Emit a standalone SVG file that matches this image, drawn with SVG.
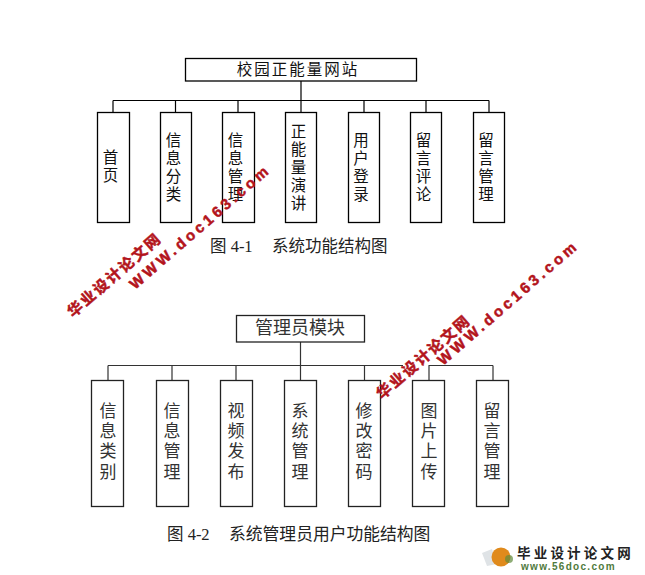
<svg xmlns="http://www.w3.org/2000/svg" width="645" height="575" viewBox="0 0 645 575">
<style>
text{font-family:"Liberation Serif","Noto Sans CJK SC",serif;fill:#111}
.b{fill:#fff;stroke:#000;stroke-width:1.3}
.b2{fill:#fff;stroke:#222;stroke-width:1.3}
.c{fill:none;stroke:#000;stroke-width:1.2}
.c2{fill:none;stroke:#333;stroke-width:1.2}
.t{font-size:15.500px;text-anchor:middle}
.t2{font-size:17px;text-anchor:middle;fill:#333}
.cap{font-size:16.500px;fill:#222}
.wm{font-family:"Liberation Sans","Noto Sans CJK SC",sans-serif;font-weight:bold;fill:#b3141c;stroke:#b3141c;stroke-width:.5}
</style>
<rect width="645" height="575" fill="#fff"/>
<g id="connectors">
<path class="c" d="M301 81V100.500M113 100.500H489M113 100.500V112M175.500 100.500V112M238 100.500V112M301 100.500V112M364 100.500V112M426 100.500V112M489 100.500V112"/>
<path class="c2" d="M300.500 342V365.500M108 365.500H403M428.500 365.500H493M108 365.500V380M172 365.500V380M236 365.500V380M300.500 365.500V380M364.500 365.500V380M429 365.500V380M493 365.500V380"/>
</g>
<g id="n0"><rect class="b" x="185.500" y="58.500" width="231" height="22.500"/><text class="t" x="298" y="75" letter-spacing="2">校园正能量网站</text></g>
<g id="n1"><rect class="b" x="97.500" y="112.500" width="32" height="110"/><text class="t" x="110.500" y="163">首</text><text class="t" x="110.500" y="181">页</text></g>
<g id="n2"><rect class="b" x="160.500" y="112.500" width="31" height="110"/><text class="t" x="173.500" y="146">信</text><text class="t" x="173.500" y="164">息</text><text class="t" x="173.500" y="182">分</text><text class="t" x="173.500" y="200">类</text></g>
<g id="n3"><rect class="b" x="222.500" y="112.500" width="32" height="110"/><text class="t" x="235.500" y="146">信</text><text class="t" x="235.500" y="164">息</text><text class="t" x="235.500" y="182">管</text><text class="t" x="235.500" y="200">理</text></g>
<g id="n4"><rect class="b" x="285.500" y="112.500" width="31" height="110"/><text class="t" x="298.500" y="137">正</text><text class="t" x="298.500" y="155">能</text><text class="t" x="298.500" y="173">量</text><text class="t" x="298.500" y="191">演</text><text class="t" x="298.500" y="209">讲</text></g>
<g id="n5"><rect class="b" x="348.500" y="112.500" width="31" height="110"/><text class="t" x="361" y="146">用</text><text class="t" x="361" y="164">户</text><text class="t" x="361" y="182">登</text><text class="t" x="361" y="200">录</text></g>
<g id="n6"><rect class="b" x="410.500" y="112.500" width="31" height="110"/><text class="t" x="423.500" y="146">留</text><text class="t" x="423.500" y="164">言</text><text class="t" x="423.500" y="182">评</text><text class="t" x="423.500" y="200">论</text></g>
<g id="n7"><rect class="b" x="473.500" y="112.500" width="31" height="110"/><text class="t" x="486" y="146">留</text><text class="t" x="486" y="164">言</text><text class="t" x="486" y="182">管</text><text class="t" x="486" y="200">理</text></g>
<text class="cap" x="210" y="252">图 4-1</text>
<text class="cap" x="272" y="252">系统功能结构图</text>
<g id="m0"><rect class="b2" x="236.500" y="315.500" width="128" height="26.500"/><text class="t2" style="font-size:18px" x="300" y="334">管理员模块</text></g>
<g id="m1"><rect class="b2" x="91.500" y="380.500" width="32" height="126"/><text class="t2" x="108" y="417">信</text><text class="t2" x="108" y="437">息</text><text class="t2" x="108" y="457">类</text><text class="t2" x="108" y="478">别</text></g>
<g id="m2"><rect class="b2" x="156.500" y="380.500" width="32" height="126"/><text class="t2" x="172" y="417">信</text><text class="t2" x="172" y="437">息</text><text class="t2" x="172" y="457">管</text><text class="t2" x="172" y="478">理</text></g>
<g id="m3"><rect class="b2" x="220.500" y="380.500" width="32" height="126"/><text class="t2" x="236" y="417">视</text><text class="t2" x="236" y="437">频</text><text class="t2" x="236" y="457">发</text><text class="t2" x="236" y="478">布</text></g>
<g id="m4"><rect class="b2" x="284.500" y="380.500" width="32" height="126"/><text class="t2" x="300" y="417">系</text><text class="t2" x="300" y="437">统</text><text class="t2" x="300" y="457">管</text><text class="t2" x="300" y="478">理</text></g>
<g id="m5"><rect class="b2" x="348.500" y="380.500" width="32" height="126"/><text class="t2" x="364" y="417">修</text><text class="t2" x="364" y="437">改</text><text class="t2" x="364" y="457">密</text><text class="t2" x="364" y="478">码</text></g>
<g id="m6"><rect class="b2" x="412.500" y="380.500" width="32" height="126"/><text class="t2" x="429" y="417">图</text><text class="t2" x="429" y="437">片</text><text class="t2" x="429" y="457">上</text><text class="t2" x="429" y="478">传</text></g>
<g id="m7"><rect class="b2" x="476.500" y="380.500" width="32" height="126"/><text class="t2" x="492" y="417">留</text><text class="t2" x="492" y="437">言</text><text class="t2" x="492" y="457">管</text><text class="t2" x="492" y="478">理</text></g>
<text class="cap" x="167" y="540">图 4-2</text>
<text class="cap" style="font-size:16.800px" x="229" y="540">系统管理员用户功能结构图</text>
<g id="watermarks">
<text class="wm" font-size="15" letter-spacing="2" transform="translate(73 318) rotate(-41)">华业设计论文网</text>
<text class="wm" font-size="15" letter-spacing="3.500" transform="translate(135 290) rotate(-41)">WWW.doc163.com</text>
<text class="wm" font-size="15" letter-spacing="2" transform="translate(382 400) rotate(-41)">华业设计论文网</text>
<text class="wm" font-size="15" letter-spacing="3.500" transform="translate(443 366) rotate(-41)">WWW.doc163.com</text>
</g>
<g id="logo">
<polygon points="482,553 492,549 497,564 487,566" fill="#dfe3e6"/>
<circle cx="501" cy="557" r="9.500" fill="#e08a1c"/>
<circle cx="509" cy="559" r="4" fill="#5f8a3c" opacity=".7"/>
<text x="517" y="558" font-size="13.500" letter-spacing="3.200" style="font-family:'Liberation Sans','Noto Sans CJK SC',sans-serif;font-weight:bold;fill:#222">毕业设计论文网</text>
<text x="521" y="570" font-size="10" letter-spacing="1.300" style="font-family:'Liberation Sans',sans-serif;font-weight:bold;fill:#4f7a3c">www.56doc.com</text>
</g>
</svg>
